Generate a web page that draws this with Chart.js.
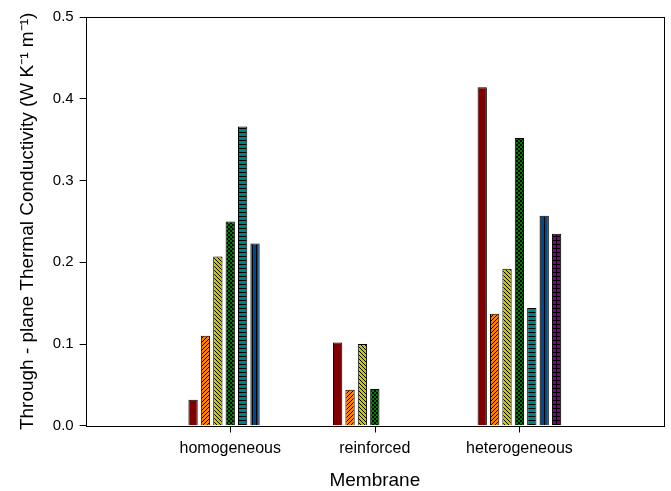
<!DOCTYPE html>
<html>
<head>
<meta charset="utf-8">
<script src="https://cdn.jsdelivr.net/npm/chart.js@4"></script>
<style>
  html, body { margin: 0; padding: 0; background: #fff; }
  #wrap { width: 671px; height: 491px; }
</style>
</head>
<body>
<div id="wrap"><canvas id="myChart"></canvas></div>
<script>
// categories (empty slots at the ends give the wide margins of the original)
const categories = ['', 'homogeneous', 'reinforced', 'heterogeneous', ''];

// series values, one array per bar colour
const s1 = [null, 0.032, 0.102, 0.414, null];
const s2 = [null, 0.110, 0.044, 0.137, null];
const s3 = [null, 0.207, 0.100, 0.192, null];
const s4 = [null, 0.250, 0.045, 0.352, null];
const s5 = [null, 0.366, null, 0.144, null];
const s6 = [null, 0.223, null, 0.257, null];
const s7 = [null, null, null, 0.235, null];

const yTicks = [0.0, 0.1, 0.2, 0.3, 0.4, 0.5];

// small fill patterns like the sigmaplot ones
function makePattern(bg, draw) {
  const c = document.createElement('canvas');
  c.width = 4; c.height = 4;
  const g = c.getContext('2d');
  g.fillStyle = bg;
  g.fillRect(0, 0, 4, 4);
  g.fillStyle = '#000';
  draw(g);
  return g.createPattern(c, 'repeat');
}
const ctx = document.getElementById('myChart').getContext('2d');

const fwd = makePattern('#ff8000', g => { for (let i = 0; i < 4; i++) g.fillRect(3 - i, i, 1, 1); });
const back = makePattern('#c8c800', g => { for (let i = 0; i < 4; i++) g.fillRect(i, i, 1, 1); });
const checker = makePattern('#008000', g => { g.fillRect(0, 0, 2, 2); g.fillRect(2, 2, 2, 2); });
const hlines = makePattern('#008080', g => { g.fillRect(0, 0, 4, 1); });
const vlines = makePattern('#004a8c', g => { g.fillRect(0, 0, 1, 4); });
const grid = makePattern('#800080', g => { g.fillRect(0, 0, 4, 1); g.fillRect(0, 0, 1, 4); });

// frame round the plot + tick marks under the three categories
const boxPlugin = {
  id: 'box',
  afterDraw(chart) {
    const a = chart.chartArea, c = chart.ctx;
    const l = Math.round(a.left) + 0.5, t = Math.round(a.top) + 0.5;
    const r = Math.round(a.right) + 0.5, b = Math.round(a.bottom) + 0.5;
    c.save();
    c.strokeStyle = '#000';
    c.lineWidth = 1;
    c.strokeRect(l, t, r - l, b - t);
    const xs = chart.scales.x;
    c.beginPath();
    for (let i = 1; i < categories.length - 1; i++) {
      const x = Math.round(xs.getPixelForValue(i)) + 0.5;
      c.moveTo(x, b);
      c.lineTo(x, b + 6);
    }
    c.stroke();
    c.restore();
  }
};

function ds(data, fill) {
  return { data: data, backgroundColor: fill, borderColor: '#000', borderWidth: 1, borderSkipped: 'bottom' };
}

const font = 'Arial, Liberation Sans';

new Chart(ctx, {
  type: 'bar',
  data: {
    labels: categories,
    datasets: [
      ds(s1, '#800000'),
      ds(s2, fwd),
      ds(s3, back),
      ds(s4, checker),
      ds(s5, hlines),
      ds(s6, vlines),
      ds(s7, grid)
    ]
  },
  options: {
    responsive: true,
    maintainAspectRatio: false,
    animation: false,
    categoryPercentage: 0.6,
    barPercentage: 0.75,
    layout: { padding: { top: 17, right: 7, left: 12, bottom: 1 } },
    plugins: {
      legend: { display: false },
      tooltip: { enabled: false }
    },
    scales: {
      x: {
        offset: false,
        grid: { display: true, drawOnChartArea: false, drawTicks: true, tickLength: 10, color: 'rgba(0,0,0,0)' },
        border: { display: false },
        ticks: { color: '#000', font: { family: font, size: 16 }, padding: 3, maxRotation: 0, autoSkip: false },
        title: { display: true, text: 'Membrane', color: '#000', font: { family: font, size: 19, lineHeight: 1 }, padding: { top: 10, bottom: 0 } }
      },
      y: {
        min: 0,
        max: 0.5,
        afterBuildTicks: axis => { axis.ticks = yTicks.map(v => ({ value: v })); },
        grid: { drawOnChartArea: false, tickLength: 6, color: '#000' },
        border: { display: false },
        ticks: { color: '#000', font: { family: font, size: 15 }, padding: 6, callback: v => v.toFixed(1) },
        title: { display: true, text: 'Through - plane Thermal Conductivity (W K\u207B\u00B9 m\u207B\u00B9)', color: '#000', font: { family: font, size: 19 }, padding: { bottom: 8 } }
      }
    }
  },
  plugins: [boxPlugin]
});
</script>
</body>
</html>
